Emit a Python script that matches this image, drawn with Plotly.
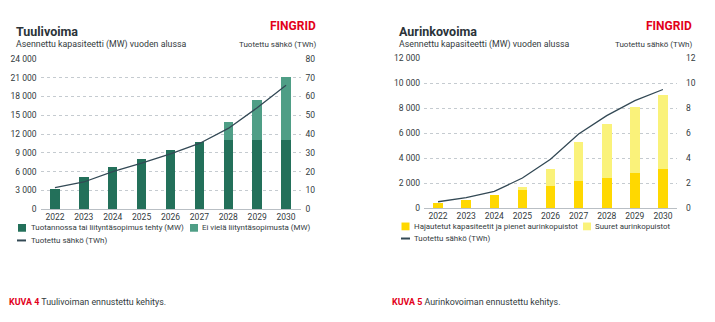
import plotly.graph_objects as go

years = ["2022", "2023", "2024", "2025", "2026", "2027", "2028", "2029", "2030"]

# Tuulivoima (wind)
wind_contracted = [3300, 5200, 6700, 8000, 9400, 10800, 11050, 11050, 11050]
wind_no_contract = [0, 0, 0, 0, 0, 0, 2800, 6350, 10050]
wind_twh = [11.5, 14.5, 20, 24.5, 29.5, 35, 43, 54, 66]

# Aurinkovoima (solar)
solar_distributed = [420, 680, 1060, 1450, 1760, 2150, 2410, 2840, 3100]
solar_large = [0, 0, 0, 210, 1370, 3140, 4290, 5230, 5920]
solar_twh = [0.5, 0.83, 1.33, 2.4, 3.9, 5.93, 7.4, 8.6, 9.5]

W, H = 715, 322
FONT = "Roboto"
TXT = "#333b40"
GRID = "#c5cbd0"
DARK_GREEN = "#23705a"
LIGHT_GREEN = "#4f9e86"
DARK_YELLOW = "#ffd800"
LIGHT_YELLOW = "#faf27a"
LINE = "#334955"
RED = "#e2001a"

def px(x):
    return x / W

def py(y):
    return 1 - y / H

fig = go.Figure()

# Wind chart
fig.add_trace(go.Bar(x=years, y=wind_contracted, marker_color=DARK_GREEN, width=0.33,
                     xaxis="x", yaxis="y", showlegend=False, marker_line_width=0))
fig.add_trace(go.Bar(x=years, y=wind_no_contract, marker_color=LIGHT_GREEN, width=0.33,
                     xaxis="x", yaxis="y", showlegend=False, marker_line_width=0))
fig.add_trace(go.Scatter(x=years, y=wind_twh, mode="lines", line=dict(color=LINE, width=1.3),
                         xaxis="x", yaxis="y2", showlegend=False))

# Solar chart
fig.add_trace(go.Bar(x=years, y=solar_distributed, marker_color=DARK_YELLOW, width=0.34,
                     xaxis="x2", yaxis="y3", showlegend=False, marker_line_width=0))
fig.add_trace(go.Bar(x=years, y=solar_large, marker_color=LIGHT_YELLOW, width=0.34,
                     xaxis="x2", yaxis="y3", showlegend=False, marker_line_width=0))
fig.add_trace(go.Scatter(x=years, y=solar_twh, mode="lines", line=dict(color=LINE, width=1.3),
                         xaxis="x2", yaxis="y4", showlegend=False))

tickfont = dict(family=FONT, size=8.5, color=TXT)

xcommon = dict(type="category", showgrid=False, showline=True, linecolor="#b9bfc4", linewidth=1,
               ticks="", tickfont=tickfont, fixedrange=True)
ycommon = dict(showline=False, zeroline=False, ticks="", tickfont=tickfont, fixedrange=True)

fig.update_layout(
    width=W, height=H,
    margin=dict(l=0, r=0, t=0, b=0),
    paper_bgcolor="white", plot_bgcolor="white",
    barmode="stack",
    separators=", ",
    font=dict(family=FONT, color=TXT),
    xaxis=dict(domain=[px(40.5), px(300.5)], anchor="y", **xcommon),
    yaxis=dict(domain=[py(210.8), py(55.6)], range=[0, 24000], dtick=3000, tickformat=",d",
               showgrid=True, gridcolor=GRID, griddash="dot", gridwidth=1, anchor="x",
               ticklabelstandoff=3, **ycommon),
    yaxis2=dict(domain=[py(210.8), py(55.6)], range=[0, 80], dtick=10, overlaying="y",
                side="right", anchor="x", showgrid=False, ticklabelstandoff=4, **ycommon),
    xaxis2=dict(domain=[px(424), px(677)], anchor="y3", **xcommon),
    yaxis3=dict(domain=[py(209.5), py(55)], range=[0, 12000], dtick=2000, tickformat=",d",
                showgrid=True, gridcolor=GRID, griddash="dot", gridwidth=1, anchor="x2",
                ticklabelstandoff=3, **ycommon),
    yaxis4=dict(domain=[py(209.5), py(55)], range=[0, 12], dtick=2, overlaying="y3",
                side="right", anchor="x2", showgrid=False, ticklabelstandoff=8, **ycommon),
)

annotations = []
shapes = []

def text(x, y, s, size=8.5, color=TXT, bold=False, anchor="left"):
    annotations.append(dict(
        x=px(x), y=py(y), xref="paper", yref="paper", text=("<b>%s</b>" % s) if bold else s,
        showarrow=False, xanchor=anchor, yanchor="middle",
        font=dict(family=FONT, size=size, color=color)))

def square(x, y, color):
    shapes.append(dict(type="rect", xref="paper", yref="paper", x0=px(x), x1=px(x + 8),
                       y0=py(y + 4), y1=py(y - 4), fillcolor=color, line=dict(width=0)))

def legline(x, y):
    shapes.append(dict(type="line", xref="paper", yref="paper", x0=px(x), x1=px(x + 9),
                       y0=py(y), y1=py(y), line=dict(color=LINE, width=2)))

LEG = 7.9

# Wind headers
text(14, 27, "Tuulivoima", size=12.5, color="#2b3338", bold=True)
text(14, 41, "Asennettu kapasiteetti (MW) vuoden alussa", size=8.8)
text(318, 22, "FINGRID", size=12, color=RED, bold=True, anchor="right")
text(318, 41, "Tuotettu sähkö (TWh)", size=8.0, anchor="right")

# Wind legend
square(18, 230, DARK_GREEN)
text(29, 230, "Tuotannossa tai liityntäsopimus tehty (MW)", size=LEG)
square(190, 230, LIGHT_GREEN)
text(200, 230, "Ei vielä liityntäsopimusta (MW)", size=LEG)
legline(17, 243)
text(29, 243, "Tuotettu sähkö (TWh)", size=LEG)

# Solar headers
text(397, 27, "Aurinkovoima", size=12.5, color="#2b3338", bold=True)
text(397, 41, "Asennettu kapasiteetti (MW) vuoden alussa", size=8.8)
text(694, 22, "FINGRID", size=12, color=RED, bold=True, anchor="right")
text(694, 41, "Tuotettu sähkö (TWh)", size=8.0, anchor="right")

# Solar legend
square(401.5, 228.5, DARK_YELLOW)
text(412, 228.5, "Hajautetut kapasiteetit ja pienet aurinkopuistot", size=LEG)
square(583, 228.5, LIGHT_YELLOW)
text(593, 228.5, "Suuret aurinkopuistot", size=LEG)
legline(401, 241)
text(412, 241, "Tuotettu sähkö (TWh)", size=LEG)

# Captions
text(7, 307, "<span style='color:%s'><b>KUVA 4</b></span> Tuulivoiman ennustettu kehitys." % RED, size=8.9)
text(390, 307, "<span style='color:%s'><b>KUVA 5</b></span> Aurinkovoiman ennustettu kehitys." % RED, size=8.9)

fig.update_layout(annotations=annotations, shapes=shapes)

fig.write_html("out.html")
